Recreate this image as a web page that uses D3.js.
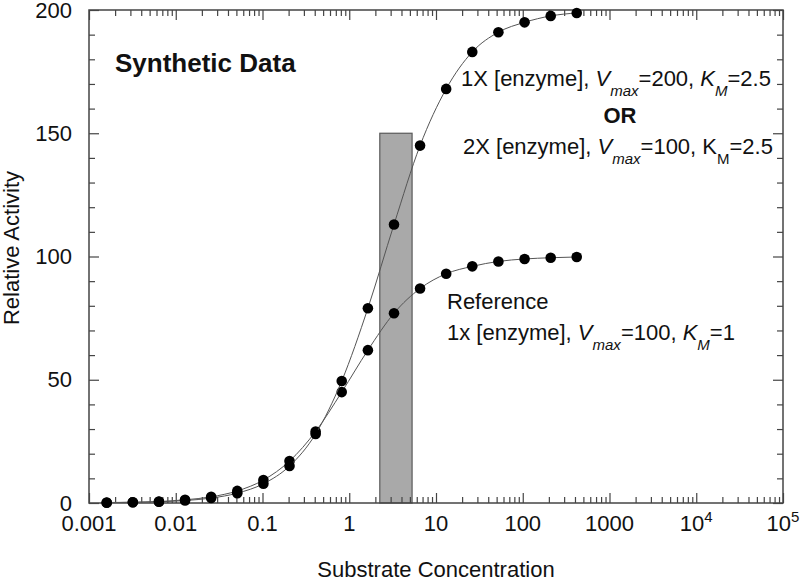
<!doctype html>
<html>
  <head>
    <meta charset='UTF-8'>
    <script src="https://cdn.jsdelivr.net/npm/d3@7"></script>
    <style>
      body { margin: 0; background: #fff; }
      text { font-family: "Liberation Sans", Arial, sans-serif; fill: #111; }
    </style>
  </head>
  <body>
    <svg id="chart" width="800" height="584"></svg>
    <script>
      // substrate concentrations (doubling series)
      const conc = [0.0016, 0.0032, 0.0064, 0.0128, 0.0256, 0.0512, 0.1024, 0.2048, 0.4096, 0.8192,
                    1.64, 3.28, 6.55, 13.1, 26.2, 52.4, 105, 210, 419];
      // reference: 1x enzyme, Vmax 100, Km 1
      const refActivity = [0.2, 0.3, 0.6, 1.3, 2.5, 4.9, 9.3, 17, 29, 45,
                           62, 77, 87, 93, 96, 98, 99, 99.5, 99.8];
      // 1X enzyme Vmax 200 Km 2.5 (or 2X, Vmax 100)
      const highActivity = [0.1, 0.3, 0.5, 1.0, 2.0, 4.0, 7.8, 15, 28, 49.5,
                            79, 113, 145, 168, 183, 191, 195, 197.6, 198.8];
      const barRange = [2.25, 5.3];
      const barTop = 150;
      const yTicks = [0, 50, 100, 150, 200];
      const xDecades = [0.001, 0.01, 0.1, 1, 10, 100, 1000, 1e4, 1e5];
      const xLabels = [["0.001"], ["0.01"], ["0.1"], ["1"], ["10"], ["100"], ["1000"], ["10", "4"], ["10", "5"]];

      const svg = d3.select("#chart");
      const pLeft = 89, pRight = 783, pTop = 10, pBottom = 503;
      const x = d3.scaleLog().domain([0.001, 1e5]).range([pLeft, pRight]);
      const y = d3.scaleLinear().domain([0, 200]).range([pBottom, pTop]);

      const minorX = [];
      xDecades.slice(0, -1).forEach(d => { for (let k = 2; k <= 9; k++) minorX.push(d * k); });
      const minorY = d3.range(0, 201, 10).filter(v => v % 50 != 0);

      // shaded bar
      svg.append("rect")
        .attr("x", x(barRange[0])).attr("y", y(barTop))
        .attr("width", x(barRange[1]) - x(barRange[0]))
        .attr("height", y(0) - y(barTop))
        .attr("fill", "#a9a9a9").attr("stroke", "#5a5a5a").attr("stroke-width", 1.2);

      // axes: ticks point inward on all four sides
      function ax(gen, tr, vals, size) {
        const g = svg.append("g").attr("transform", tr)
          .call(gen.tickValues(vals).tickSize(size).tickFormat(""));
        g.selectAll("path").remove();
        g.selectAll("line").attr("stroke", "#444").attr("stroke-width", 1.2);
      }
      ax(d3.axisBottom(x), `translate(0,${pBottom})`, xDecades, -10);
      ax(d3.axisBottom(x), `translate(0,${pBottom})`, minorX, -6);
      ax(d3.axisTop(x), `translate(0,${pTop})`, xDecades, -10);
      ax(d3.axisTop(x), `translate(0,${pTop})`, minorX, -6);
      ax(d3.axisLeft(y), `translate(${pLeft},0)`, yTicks, -10);
      ax(d3.axisLeft(y), `translate(${pLeft},0)`, minorY, -6);
      ax(d3.axisRight(y), `translate(${pRight},0)`, yTicks, -10);
      ax(d3.axisRight(y), `translate(${pRight},0)`, minorY, -6);

      svg.append("rect")
        .attr("x", pLeft).attr("y", pTop).attr("width", pRight - pLeft).attr("height", pBottom - pTop)
        .attr("fill", "none").attr("stroke", "#444").attr("stroke-width", 1.5);

      // tick labels
      svg.append("g").selectAll("text").data(yTicks).enter().append("text")
        .attr("x", pLeft - 17).attr("y", d => y(d)).attr("dy", "0.35em")
        .attr("text-anchor", "end").style("font-size", "22px").text(d => d);

      const xl = svg.append("g").selectAll("text").data(xDecades).enter().append("text")
        .attr("x", d => x(d)).attr("y", pBottom + 28)
        .attr("text-anchor", "middle").style("font-size", "22px");
      xl.append("tspan").text((d, i) => xLabels[i][0]);
      xl.filter((d, i) => xLabels[i].length > 1).append("tspan")
        .attr("dy", -9).style("font-size", "15px").text(d => xLabels[xDecades.indexOf(d)][1]);

      // axis titles
      svg.append("text").attr("x", (pLeft + pRight) / 2).attr("y", 577)
        .attr("text-anchor", "middle").style("font-size", "22px").text("Substrate Concentration");
      svg.append("text").attr("transform", "translate(19,248) rotate(-90)")
        .attr("text-anchor", "middle").style("font-size", "22px").text("Relative Activity");

      // curves and points
      const line = d3.line().x((d, i) => x(conc[i])).y(d => y(d)).curve(d3.curveMonotoneX);
      [refActivity, highActivity].forEach(series => {
        svg.append("path").datum(series).attr("d", line)
          .attr("fill", "none").attr("stroke", "#555").attr("stroke-width", 1);
        svg.append("g").selectAll("circle").data(series).enter().append("circle")
          .attr("cx", (d, i) => x(conc[i])).attr("cy", d => y(d)).attr("r", 5.3)
          .attr("fill", "#000");
      });

      // annotations
      svg.append("text").attr("x", 115).attr("y", 72)
        .style("font-size", "26px").style("font-weight", "bold").text("Synthetic Data");

      function label(xp, yp, parts) {
        const t = svg.append("text").attr("x", xp).attr("y", yp).style("font-size", "22px");
        parts.forEach(p => {
          const s = t.append("tspan").text(p.t);
          if (p.i) s.style("font-style", "italic");
          if (p.sub) s.style("font-size", "15px").attr("dy", 10);
          if (p.back) s.attr("dy", -10);
        });
      }
      label(461, 86, [{t: "1X [enzyme], "}, {t: "V", i: 1}, {t: "max", i: 1, sub: 1}, {t: "=200, ", back: 1},
                      {t: "K", i: 1}, {t: "M", i: 1, sub: 1}, {t: "=2.5", back: 1}]);
      svg.append("text").attr("x", 620).attr("y", 123).attr("text-anchor", "middle")
        .style("font-size", "22px").style("font-weight", "bold").text("OR");
      label(463, 154, [{t: "2X [enzyme], "}, {t: "V", i: 1}, {t: "max", i: 1, sub: 1}, {t: "=100, ", back: 1},
                       {t: "K"}, {t: "M", sub: 1}, {t: "=2.5", back: 1}]);
      label(447, 309, [{t: "Reference"}]);
      label(447, 340, [{t: "1x [enzyme], "}, {t: "V", i: 1}, {t: "max", i: 1, sub: 1}, {t: "=100, ", back: 1},
                       {t: "K", i: 1}, {t: "M", i: 1, sub: 1}, {t: "=1", back: 1}]);
    </script>
  </body>
</html>
